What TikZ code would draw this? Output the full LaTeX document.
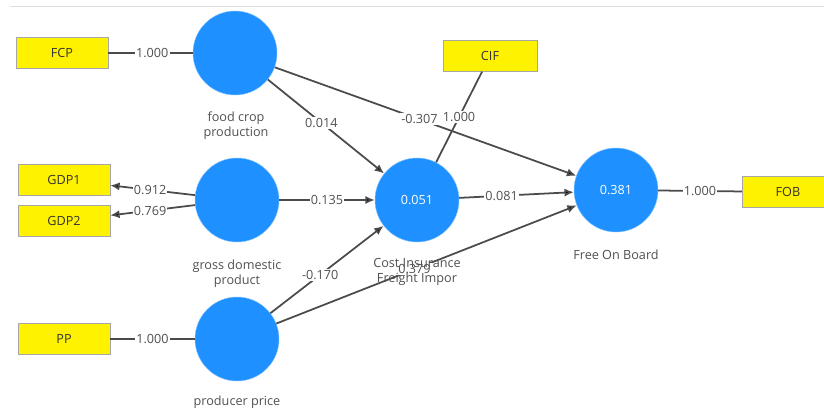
\documentclass[tikz,border=0pt]{standalone}
\usepackage{fontspec}
\setmainfont{Open Sans}
\usetikzlibrary{arrows.meta}
\definecolor{plsblue}{RGB}{30,144,255}
\definecolor{plsline}{RGB}{75,75,75}
\definecolor{plstext}{RGB}{80,80,80}

\begin{document}
\begin{tikzpicture}[x=0.3mm, y=-0.3mm,
  every node/.style={font=\fontsize{10.8}{13}\selectfont},
  latent/.style={circle, fill=plsblue, draw=plsblue!55, minimum size=25.2mm, inner sep=0pt, text=white},
  indicator/.style={rectangle, fill=yellow, draw=gray!70, minimum width=27.6mm, minimum height=9.3mm, inner sep=0pt, text=black!80},
  caption/.style={align=center, text=plstext},
  weight/.style={fill=white, inner sep=1pt, text=plstext},
  link/.style={draw=plsline, line width=1.5pt},
  tip/.style={link, -{Latex[length=8pt,width=7pt]}}
]
\useasboundingbox (0,0) rectangle (824,410);
\clip (0,0) rectangle (824,410);
\draw[gray!25] (10,6) -- (824,6);

% indicators
\node[indicator] (fcp) at (62,53) {FCP};
\node[indicator] (gdp1) at (64,180) {GDP1};
\node[indicator] (gdp2) at (64,221) {GDP2};
\node[indicator] (pp) at (64,339) {PP};
\node[indicator, minimum width=28.2mm] (cif) at (490,56) {CIF};
\node[indicator] (fob) at (788,192) {FOB};

% constructs
\node[latent] (food) at (235,53) {};
\node[latent] (gross) at (237,200) {};
\node[latent] (price) at (237,339) {};
\node[latent] (cost) at (417,200) {0.051};
\node[latent] (board) at (616,190) {0.381};

\path[link]
  (fcp) edge node[weight, pos=0.52] {1.000} (food)
  (pp) edge node[weight, pos=0.5] {1.000} (price)
  (cif) edge node[weight, pos=0.5] {1.000} (cost)
  (board) edge node[weight, pos=0.5] {1.000} (fob);

\path[tip]
  (gross) edge node[weight, pos=0.53] {0.912} (gdp1)
  (gross) edge node[weight, pos=0.53] {0.769} (gdp2)
  (food) edge node[weight, pos=0.46] {0.014} (cost)
  (food) edge node[weight, pos=0.48] {-0.307} (board)
  (gross) edge node[weight, pos=0.5] {0.135} (cost)
  (price) edge node[weight, pos=0.44] {-0.170} (cost)
  (price) edge node[weight, pos=0.46] {0.379} (board)
  (cost) edge node[weight, pos=0.37] {0.081} (board);

% construct names
\node[caption] (foodname) at (236,126) {food crop\\production};
\node[caption] (grossname) at (237,274) {gross domestic\\product};
\node[caption] (pricename) at (237,402) {producer price};
\node[caption] (costname) at (417,272) {Cost Insurance\\Freight Impor};
\node[caption] (boardname) at (616,255) {Free On Board};
\end{tikzpicture}
\end{document}
